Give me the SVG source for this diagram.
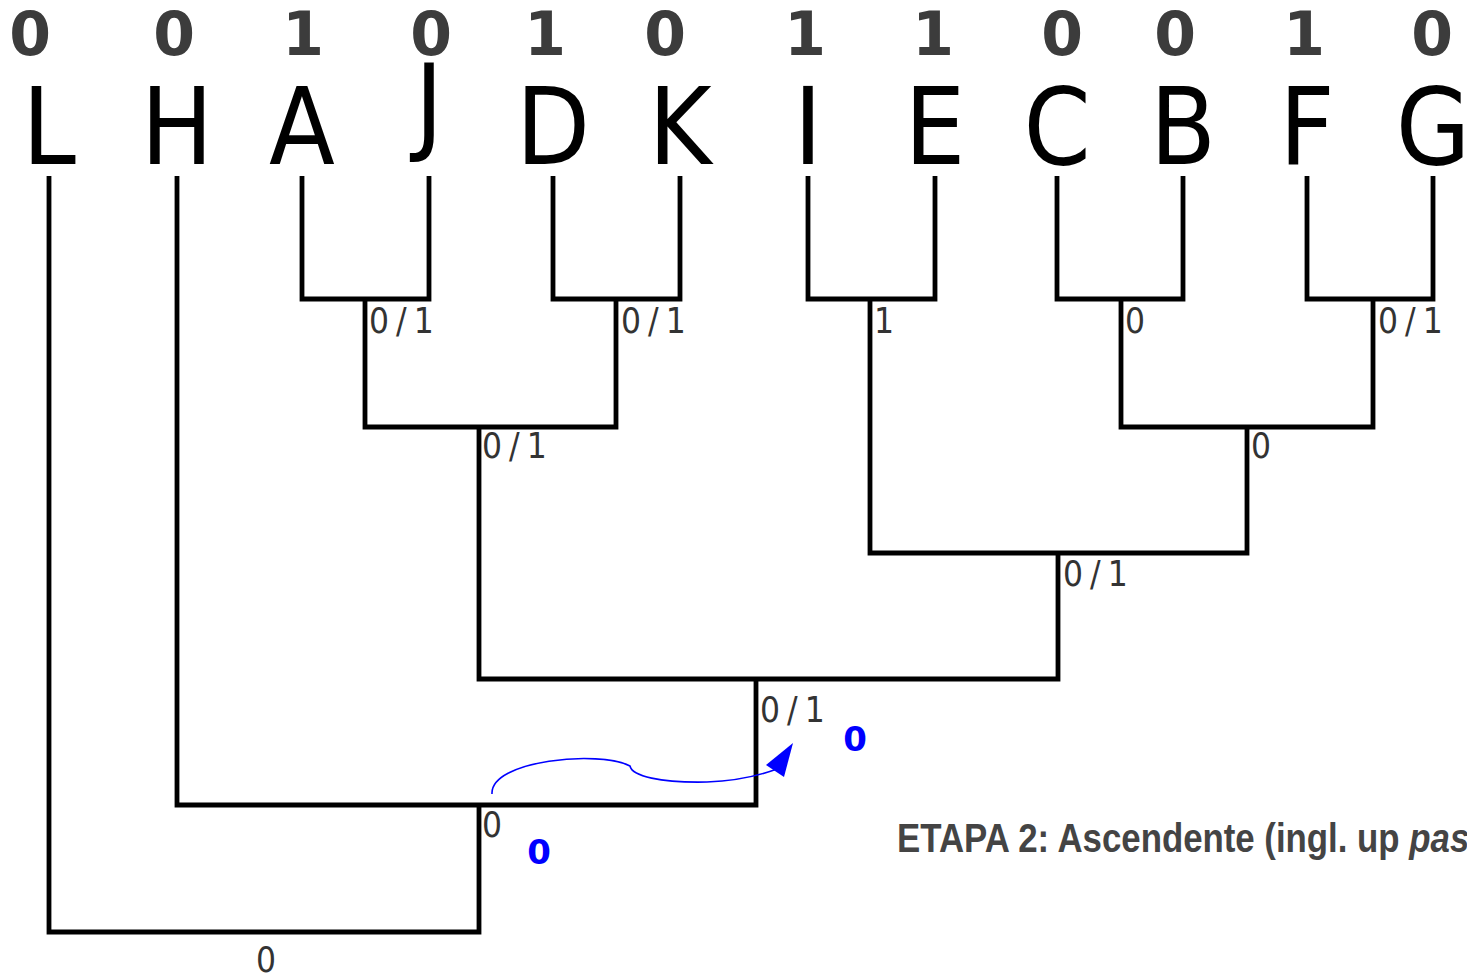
<svg xmlns="http://www.w3.org/2000/svg" width="1467" height="976" viewBox="0 0 1467 976">
<style>
.leaf{font-family:"DejaVu Sans Condensed","DejaVu Sans",sans-serif;font-stretch:condensed;font-size:107px;fill:#000;text-anchor:middle}
.bit{font-family:"DejaVu Sans",sans-serif;font-weight:bold;font-size:60px;fill:#3c3c3c;text-anchor:middle}
.lab{font-family:"DejaVu Sans Condensed","DejaVu Sans",sans-serif;font-stretch:condensed;font-size:35px;letter-spacing:7px;fill:#333}
.blue{font-family:"DejaVu Sans",sans-serif;font-weight:bold;font-size:34px;fill:#0000ff;text-anchor:middle}
.title{font-family:"Liberation Sans",Arial,sans-serif;font-weight:bold;font-size:40px;fill:#444}
.edge{fill:none;stroke:#000;stroke-width:4.8;stroke-linejoin:miter}
</style>
<rect width="1467" height="976" fill="#fff"/>
<g id="connectors">
<path class="edge" d="M302,176 V299 H429 V176"/>
<path class="edge" d="M553,176 V299 H680 V176"/>
<path class="edge" d="M808,176 V299 H935 V176"/>
<path class="edge" d="M1057,176 V299 H1183 V176"/>
<path class="edge" d="M1307,176 V299 H1433 V176"/>
<path class="edge" d="M365,299 V427 H616 V299"/>
<path class="edge" d="M1121,299 V427 H1373 V299"/>
<path class="edge" d="M870,299 V553 H1247 V427"/>
<path class="edge" d="M479,427 V679 H1058 V553"/>
<path class="edge" d="M177,176 V805 H756 V679"/>
<path class="edge" d="M49,176 V932 H479 V805"/>
<path d="M492,794 C490,760 600,750 630,766 C632,776 660,783 707,782 C735,781 758,776 777,769" fill="none" stroke="#0000ff" stroke-width="1.6"/>
<polygon points="793,743 766,765 784,777" fill="#0000ff"/>
</g>
<g id="leaf-L"><text class="bit" x="30" y="55">0</text><text class="leaf" x="49" y="164">L</text></g>
<g id="leaf-H"><text class="bit" x="174" y="55">0</text><text class="leaf" x="177" y="164">H</text></g>
<g id="leaf-A"><text class="bit" x="303" y="55">1</text><text class="leaf" x="302" y="164">A</text></g>
<g id="leaf-J"><text class="bit" x="431" y="55">0</text><text class="leaf" x="429" y="141">J</text></g>
<g id="leaf-D"><text class="bit" x="545" y="55">1</text><text class="leaf" x="553" y="164">D</text></g>
<g id="leaf-K"><text class="bit" x="665" y="55">0</text><text class="leaf" x="680" y="164">K</text></g>
<g id="leaf-I"><text class="bit" x="805" y="55">1</text><text class="leaf" x="808" y="164">I</text></g>
<g id="leaf-E"><text class="bit" x="933" y="55">1</text><text class="leaf" x="935" y="164">E</text></g>
<g id="leaf-C"><text class="bit" x="1062" y="55">0</text><text class="leaf" x="1057" y="164">C</text></g>
<g id="leaf-B"><text class="bit" x="1175" y="55">0</text><text class="leaf" x="1183" y="164">B</text></g>
<g id="leaf-F"><text class="bit" x="1304" y="55">1</text><text class="leaf" x="1307" y="164">F</text></g>
<g id="leaf-G"><text class="bit" x="1432" y="55">0</text><text class="leaf" x="1433" y="164">G</text></g>
<g id="node-AJ"><text class="lab" x="369" y="333">0/1</text></g>
<g id="node-DK"><text class="lab" x="621" y="333">0/1</text></g>
<g id="node-IE"><text class="lab" x="874" y="333">1</text></g>
<g id="node-CB"><text class="lab" x="1125" y="333">0</text></g>
<g id="node-FG"><text class="lab" x="1378" y="333">0/1</text></g>
<g id="node-AJDK"><text class="lab" x="482" y="458">0/1</text></g>
<g id="node-CBFG"><text class="lab" x="1251" y="458">0</text></g>
<g id="node-IECBFG"><text class="lab" x="1063" y="586">0/1</text></g>
<g id="node-mid"><text class="lab" x="760" y="722">0/1</text><text class="blue" x="855" y="751">0</text></g>
<g id="node-H"><text class="lab" x="482" y="837">0</text><text class="blue" x="539" y="864">0</text></g>
<g id="node-root"><text class="lab" x="256" y="972">0</text></g>
<g id="caption"><text class="title" transform="translate(897,852) scale(0.87,1)">ETAPA 2: Ascendente (ingl. up <tspan font-style="italic">pas</tspan></text></g>
</svg>
